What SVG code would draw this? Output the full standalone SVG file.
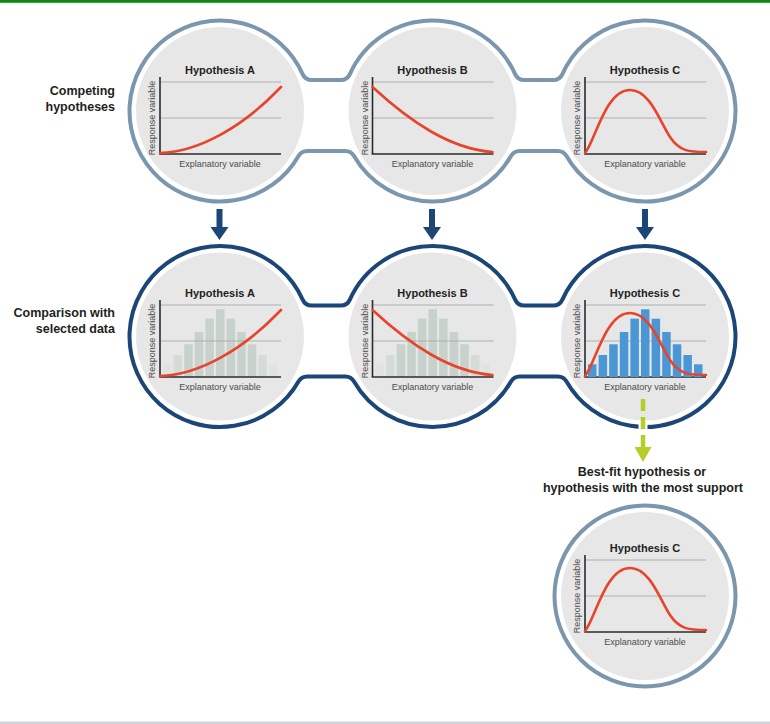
<svg xmlns="http://www.w3.org/2000/svg" width="770" height="724" viewBox="0 0 770 724">
<style>
text{font-family:"Liberation Sans",Arial,sans-serif;fill:#231f20}
.lbl{font-size:12.5px;font-weight:bold;text-anchor:end}
.lblc{font-size:12.5px;font-weight:bold;text-anchor:middle}
.title{font-size:11px;font-weight:bold;text-anchor:middle}
.ax{font-size:9px;fill:#4d4d4d;text-anchor:middle}
.disc{fill:#e6e7e6}
.grid{stroke:#a8a9a9;stroke-width:0.9;fill:none}
.axis{stroke:#2b2b2b;stroke-width:1.6;fill:none}
.curve{stroke:#e8432b;stroke-width:2.6;fill:none;stroke-linecap:round}
.ringL{fill:#ffffff;stroke:#7b96ad;stroke-width:4}
.ringD{fill:#ffffff;stroke:#1b4677;stroke-width:4}
.f1{fill:#dfe4e1}.f2{fill:#d5dcd8}.f3{fill:#c8d2cc}
.hb{fill:#4b97d5}
</style>
<defs>
<marker id="navyhead" viewBox="0 0 13 18" refX="0" refY="9" markerWidth="13" markerHeight="18" markerUnits="userSpaceOnUse" orient="auto"><path d="M0,0 L13,9 L0,18 Z" fill="#1b4677"/></marker>
<marker id="greenhead" viewBox="0 0 15 17" refX="0" refY="8.5" markerWidth="15" markerHeight="17" markerUnits="userSpaceOnUse" orient="auto"><path d="M0,0 L15,8.5 L0,17 Z" fill="#b7cd2a"/></marker>
<g id="axes">
<line class="grid" x1="-60" y1="0" x2="61" y2="0"/>
<line class="grid" x1="-60" y1="36" x2="61" y2="36"/>
<line class="axis" x1="-60" y1="-5" x2="-60" y2="72"/>
<line class="axis" x1="-60.8" y1="72" x2="61" y2="72"/>
<text class="ax" x="0" y="85">Explanatory variable</text>
<text class="ax" transform="translate(-65,36) rotate(-90)">Response variable</text>
</g>
<g id="fadedbars">
<rect class="f1" x="-57" y="59.3" width="8.5" height="12.7"/>
<rect class="f2" x="-46.4" y="50" width="8.5" height="22"/>
<rect class="f3" x="-35.8" y="39.3" width="8.5" height="32.7"/>
<rect class="f3" x="-25.2" y="27" width="8.5" height="45"/>
<rect class="f3" x="-14.6" y="13.7" width="8.5" height="58.3"/>
<rect class="f3" x="-4" y="4.3" width="8.5" height="67.7"/>
<rect class="f3" x="6.6" y="13.7" width="8.5" height="58.3"/>
<rect class="f3" x="17.2" y="27" width="8.5" height="45"/>
<rect class="f3" x="27.8" y="39.3" width="8.5" height="32.7"/>
<rect class="f2" x="38.4" y="50" width="8.5" height="22"/>
<rect class="f1" x="49" y="59.3" width="8.5" height="12.7"/>
</g>
<g id="bluebars">
<rect class="hb" x="-57" y="59.3" width="8.5" height="12.7"/>
<rect class="hb" x="-46.4" y="50" width="8.5" height="22"/>
<rect class="hb" x="-35.8" y="39.3" width="8.5" height="32.7"/>
<rect class="hb" x="-25.2" y="27" width="8.5" height="45"/>
<rect class="hb" x="-14.6" y="13.7" width="8.5" height="58.3"/>
<rect class="hb" x="-4" y="4.3" width="8.5" height="67.7"/>
<rect class="hb" x="6.6" y="13.7" width="8.5" height="58.3"/>
<rect class="hb" x="17.2" y="27" width="8.5" height="45"/>
<rect class="hb" x="27.8" y="39.3" width="8.5" height="32.7"/>
<rect class="hb" x="38.4" y="50" width="8.5" height="22"/>
<rect class="hb" x="49" y="59.3" width="8.5" height="12.7"/>
</g>
<path id="curveA" class="curve" d="M-60,71 C-20,70 25,43 61,5"/>
<path id="curveB" class="curve" d="M-60,5 C-22,40 18,67 60,70"/>
<path id="curveC" class="curve" d="M-60,71 C-50,60 -40,8 -15,8 C5,8 15,40 25,55 C35,70 45,70 61,70"/>
</defs>

<rect x="0" y="0" width="770" height="2.8" fill="#0e8a0e"/>
<rect x="0" y="721.5" width="770" height="2.5" fill="#d0d4d8"/>

<g id="labels">
<text class="lbl" x="115" y="94.5">Competing</text>
<text class="lbl" x="115" y="110.5">hypotheses</text>
<text class="lbl" x="115" y="317">Comparison with</text>
<text class="lbl" x="115" y="333">selected data</text>
<text class="lblc" x="642" y="476">Best-fit hypothesis or</text>
<text class="lblc" x="643" y="492">hypothesis with the most support</text>
</g>

<g id="row-top-frame">
<path class="ringL" d="M302.63,74.08 A10,10 0 0 0 311.76,80 H340.74 A10,10 0 0 0 349.87,74.08 A90.5,90.5 0 0 1 515.13,74.08 A10,10 0 0 0 524.26,80 H553.24 A10,10 0 0 0 562.37,74.08 A90.5,90.5 0 1 1 566.49,156.02 A10,10 0 0 0 557.82,151 H519.68 A10,10 0 0 0 511.01,156.02 A90.5,90.5 0 0 1 353.99,156.02 A10,10 0 0 0 345.32,151 H307.18 A10,10 0 0 0 298.51,156.02 A90.5,90.5 0 1 1 302.63,74.08 Z"/>
</g>
<g id="row-mid-frame">
<path class="ringD" d="M302.63,299.58 A10,10 0 0 0 311.76,305.5 H340.74 A10,10 0 0 0 349.87,299.58 A90.5,90.5 0 0 1 515.13,299.58 A10,10 0 0 0 524.26,305.5 H553.24 A10,10 0 0 0 562.37,299.58 A90.5,90.5 0 1 1 566.49,381.52 A10,10 0 0 0 557.82,376.5 H519.68 A10,10 0 0 0 511.01,381.52 A90.5,90.5 0 0 1 353.99,381.52 A10,10 0 0 0 345.32,376.5 H307.18 A10,10 0 0 0 298.51,381.52 A90.5,90.5 0 1 1 302.63,299.58 Z"/>
</g>

<g id="node-top-a">
<circle class="disc" cx="220" cy="111" r="84"/>
<g transform="translate(220,82)">
<use href="#axes"/><use href="#curveA"/>
<text class="title" x="0" y="-8">Hypothesis A</text>
</g>
</g>
<g id="node-top-b">
<circle class="disc" cx="432.5" cy="111" r="84"/>
<g transform="translate(432.5,82)">
<use href="#axes"/><use href="#curveB"/>
<text class="title" x="0" y="-8">Hypothesis B</text>
</g>
</g>
<g id="node-top-c">
<circle class="disc" cx="645" cy="111" r="84"/>
<g transform="translate(645,82)">
<use href="#axes"/><use href="#curveC"/>
<text class="title" x="0" y="-8">Hypothesis C</text>
</g>
</g>

<g id="node-mid-a">
<circle class="disc" cx="220" cy="336.5" r="84"/>
<g transform="translate(220,305)">
<use href="#fadedbars"/><use href="#axes"/><use href="#curveA"/>
<text class="title" x="0" y="-8">Hypothesis A</text>
</g>
</g>
<g id="node-mid-b">
<circle class="disc" cx="432.5" cy="336.5" r="84"/>
<g transform="translate(432.5,305)">
<use href="#fadedbars"/><use href="#axes"/><use href="#curveB"/>
<text class="title" x="0" y="-8">Hypothesis B</text>
</g>
</g>
<g id="node-mid-c">
<circle class="disc" cx="645" cy="336.5" r="84"/>
<g transform="translate(645,305)">
<use href="#axes"/><use href="#bluebars"/><use href="#curveC"/>
<text class="title" x="0" y="-8">Hypothesis C</text>
</g>
</g>

<g id="node-best-c">
<circle class="ringL" cx="645" cy="596" r="90.5"/>
<circle class="disc" cx="645" cy="596" r="84"/>
<g transform="translate(645,560)">
<use href="#axes"/><use href="#curveC"/>
<text class="title" x="0" y="-8">Hypothesis C</text>
</g>
</g>

<g id="connectors">
<line x1="219.5" y1="209" x2="219.5" y2="227" stroke="#1b4677" stroke-width="6" marker-end="url(#navyhead)"/>
<line x1="432" y1="209" x2="432" y2="227" stroke="#1b4677" stroke-width="6" marker-end="url(#navyhead)"/>
<line x1="645" y1="209" x2="645" y2="227" stroke="#1b4677" stroke-width="6" marker-end="url(#navyhead)"/>
<line x1="643" y1="420" x2="643" y2="434" stroke="#ffffff" stroke-width="9"/>
<line x1="643" y1="399" x2="643" y2="447" stroke="#b7cd2a" stroke-width="4.5" stroke-dasharray="12 6" marker-end="url(#greenhead)"/>
</g>
</svg>
